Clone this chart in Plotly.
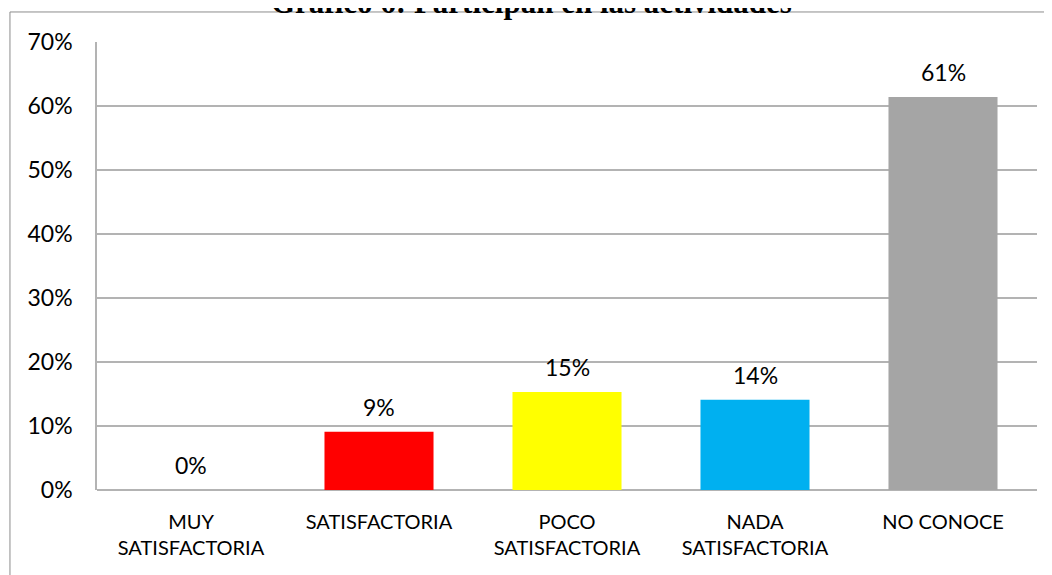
import plotly.graph_objects as go

# ─── Datos ──────────────────────────────────────────────────────────────────────

categorias = ["MUY<br>SATISFACTORIA", "SATISFACTORIA", "POCO<br>SATISFACTORIA",
              "NADA<br>SATISFACTORIA", "NO CONOCE"]
valores = [0.0, 0.091, 0.153, 0.141, 0.614]
etiquetas = ["0%", "9%", "15%", "14%", "61%"]
colores = ["#FF0000", "#FF0000", "#FFFF00", "#00B0F0", "#A5A5A5"]
ticks_y = [0, 0.1, 0.2, 0.3, 0.4, 0.5, 0.6, 0.7]
titulo = "Gráfico 6: Participan en las actividades"

FONT = "Lato, 'Open Sans', sans-serif"
GRID = "#B3B3B3"

# ─── Figura ─────────────────────────────────────────────────────────────────────

fig = go.Figure(go.Bar(
    x=categorias,
    y=valores,
    marker=dict(color=colores, line=dict(width=0)),
    width=0.58,
    hoverinfo="skip",
))

for cat, val, txt in zip(categorias, valores, etiquetas):
    fig.add_annotation(
        x=cat, y=val, text=txt, showarrow=False,
        yanchor="bottom", yshift=9,
        font=dict(family=FONT, size=23, color="#000000"),
    )

# título cortado arriba, como en la imagen original
fig.add_annotation(
    text=f"<b>{titulo}</b>", xref="paper", yref="paper",
    x=0.462, y=1.045, xanchor="center", yanchor="bottom", showarrow=False,
    font=dict(family="'Liberation Serif', 'Times New Roman', serif", size=31, color="#000000"),
)

# marco exterior del gráfico (solo lados visibles)
fig.add_shape(type="line", xref="paper", yref="paper",
              x0=-0.0926, x1=-0.0926, y0=1.067, y1=-0.4,
              line=dict(color="#8C8C8C", width=1))
fig.add_shape(type="line", xref="paper", yref="paper",
              x0=-0.0926, x1=1.2, y0=1.067, y1=1.067,
              line=dict(color="#8C8C8C", width=1))

fig.update_layout(
    width=1052, height=575,
    paper_bgcolor="white", plot_bgcolor="white",
    margin=dict(l=89, r=23, t=34, b=93),
    showlegend=False,
    bargap=0.42,
    xaxis=dict(
        showgrid=False, showline=False, zeroline=False,
        tickfont=dict(family=FONT, size=20, color="#000000"),
        ticks="", ticklabelstandoff=18,
    ),
    yaxis=dict(
        range=[0, 0.7],
        tickvals=ticks_y,
        tickformat=".0%",
        showgrid=True, gridcolor=GRID, gridwidth=1.5,
        showline=True, linecolor=GRID, linewidth=1.5,
        zeroline=True, zerolinecolor=GRID, zerolinewidth=1.5,
        tickfont=dict(family=FONT, size=23, color="#000000"),
        ticks="", ticklen=0, ticklabelstandoff=18,
    ),
)

fig.write_html("out.html")
